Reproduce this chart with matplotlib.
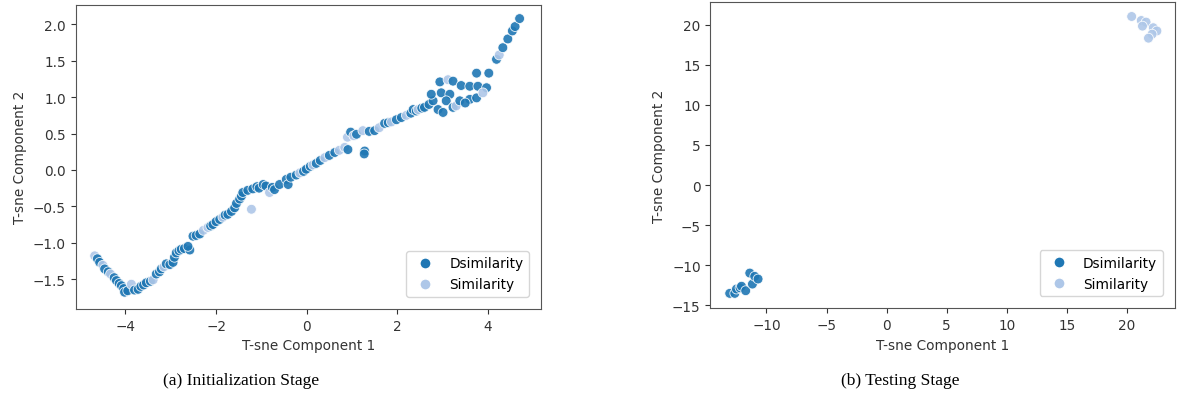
import matplotlib.pyplot as plt
from matplotlib.lines import Line2D

# initialization stage t-sne points (D = dissimilarity, S = similarity)
init_x = [-4.68, -4.62, -4.57, -4.50, -4.46, -4.38, -4.33, -4.25, -4.20, -4.14, -4.09, -4.04, -4.02, -3.95,
          -3.87, -3.80, -3.72, -3.66, -3.60, -3.54, -3.45, -3.39, -3.32, -3.25, -3.21, -3.15, -3.10, -3.02,
          -2.95, -2.92, -2.88, -2.82, -2.77, -2.70, -2.58, -2.62, -2.51, -2.44, -2.36, -2.28, -2.18, -2.12,
          -2.07, -2.00, -1.92, -1.85, -1.80, -1.74, -1.66, -1.59, -1.55, -1.48, -1.44, -1.41, -1.30, -1.22,
          -1.19, -1.10, -1.05, -0.96, -0.90, -0.82, -0.76, -0.71, -0.60, -0.45, -0.41, -0.35, -0.23, -0.15,
          -0.07, -0.01, 0.08, 0.14, 0.21, 0.30, 0.40, 0.50, 0.62, 0.72, 0.84, 0.91, 0.90, 0.97, 1.04, 1.10,
          1.24, 1.28, 1.27, 1.38, 1.50, 1.60, 1.72, 1.80, 1.87, 1.98, 2.09, 2.20, 2.30, 2.35, 2.42, 2.46,
          2.54, 2.60, 2.70, 2.79, 2.75, 2.90, 2.97, 2.94, 3.12, 3.23, 3.41, 3.16, 3.08, 3.01, 3.23, 3.30,
          3.38, 3.60, 3.78, 3.97, 3.75, 4.02, 3.60, 3.75, 3.89, 3.50, 4.19, 4.25, 4.33, 4.44, 4.54, 4.60,
          4.70]
init_y = [-1.18, -1.22, -1.27, -1.31, -1.36, -1.40, -1.43, -1.48, -1.52, -1.56, -1.59, -1.63, -1.68, -1.66,
          -1.57, -1.65, -1.64, -1.60, -1.58, -1.55, -1.53, -1.51, -1.43, -1.40, -1.36, -1.33, -1.29, -1.30,
          -1.27, -1.20, -1.14, -1.11, -1.09, -1.08, -1.10, -1.05, -0.91, -0.90, -0.88, -0.83, -0.79, -0.77,
          -0.75, -0.71, -0.68, -0.65, -0.62, -0.61, -0.57, -0.52, -0.46, -0.40, -0.36, -0.31, -0.28, -0.54,
          -0.26, -0.23, -0.25, -0.20, -0.22, -0.31, -0.24, -0.27, -0.20, -0.13, -0.20, -0.10, -0.07, -0.04,
          -0.02, 0.01, 0.05, 0.07, 0.09, 0.13, 0.17, 0.20, 0.24, 0.27, 0.31, 0.28, 0.45, 0.52, 0.47, 0.49,
          0.54, 0.26, 0.22, 0.53, 0.54, 0.58, 0.64, 0.65, 0.66, 0.69, 0.72, 0.75, 0.78, 0.83, 0.81, 0.83,
          0.85, 0.86, 0.90, 0.95, 1.04, 0.83, 1.06, 1.21, 1.24, 1.22, 1.16, 1.04, 0.95, 0.79, 0.86, 0.88,
          0.95, 1.15, 1.15, 1.13, 1.33, 1.33, 0.97, 0.99, 1.06, 0.92, 1.52, 1.58, 1.68, 1.80, 1.91, 1.97,
          2.08]
init_lab = ['S', 'D', 'D', 'S', 'D', 'D', 'S', 'D', 'D', 'D', 'D', 'D', 'D', 'D',
            'S', 'D', 'D', 'D', 'D', 'D', 'D', 'S', 'D', 'D', 'D', 'S', 'D', 'D',
            'D', 'D', 'D', 'D', 'D', 'D', 'D', 'D', 'D', 'D', 'D', 'S', 'S', 'D',
            'D', 'D', 'D', 'S', 'D', 'D', 'D', 'D', 'D', 'D', 'D', 'D', 'D', 'S',
            'D', 'D', 'D', 'D', 'D', 'S', 'D', 'D', 'D', 'D', 'D', 'D', 'D', 'S',
            'D', 'D', 'D', 'S', 'D', 'D', 'S', 'D', 'D', 'S', 'S', 'D', 'S', 'D', 'S', 'D',
            'S', 'D', 'D', 'D', 'D', 'S', 'D', 'D', 'S', 'D', 'D', 'S', 'D', 'D', 'D', 'S',
            'D', 'D', 'D', 'D', 'D', 'D', 'D', 'D', 'S', 'D', 'D', 'D', 'D', 'D', 'D', 'S',
            'D', 'D', 'D', 'D', 'D', 'D', 'D', 'D', 'S', 'D', 'D', 'S', 'D', 'D', 'D', 'D',
            'D']

# testing stage t-sne points
test_x = [-13.06, -12.64, -12.50, -12.20, -12.08, -11.73, -11.39, -11.17, -10.98, -10.70,
          20.4, 21.2, 21.6, 21.3, 22.2, 22.5, 22.1, 21.8]
test_y = [-13.49, -13.49, -12.95, -12.80, -12.60, -13.16, -10.96, -12.33, -11.37, -11.70,
          21.0, 20.5, 20.3, 19.8, 19.6, 19.2, 18.8, 18.3]
test_lab = ['D'] * 10 + ['S'] * 8

colors = {'D': '#1f77b4', 'S': '#aec7e8'}
names = {'D': 'Dsimilarity', 'S': 'Similarity'}


def draw(ax, xs, ys, labs, xlim, ylim, xticks, yticks):
    ax.scatter(xs, ys, c=[colors[l] for l in labs], s=50, edgecolors='white',
               linewidths=0.6, alpha=0.9, zorder=3)
    ax.set_xlim(xlim)
    ax.set_ylim(ylim)
    ax.set_xticks(xticks)
    ax.set_yticks(yticks)
    ax.set_xlabel('T-sne Component 1', fontsize=9.8, color='#333333')
    ax.set_ylabel('T-sne Component 2', fontsize=9.8, color='#333333')
    ax.tick_params(labelsize=9.8, colors='#333333')
    for sp in ax.spines.values():
        sp.set_color('#555555')
    handles = [Line2D([], [], marker='o', ls='', color=colors[k], markeredgecolor='white',
                      markersize=8, label=names[k]) for k in ['D', 'S']]
    ax.legend(handles=handles, loc='lower right', fontsize=9.8, framealpha=0.8,
              borderaxespad=0.9)


fig = plt.figure(figsize=(11.82, 4.10), dpi=100)
ax1 = fig.add_axes([0.064, 0.244, 0.394, 0.742])
ax2 = fig.add_axes([0.601, 0.2456, 0.393, 0.746])

draw(ax1, init_x, init_y, init_lab, (-5.1, 5.18), (-1.91, 2.27),
     [-4, -2, 0, 2, 4], [-1.5, -1.0, -0.5, 0.0, 0.5, 1.0, 1.5, 2.0])
draw(ax2, test_x, test_y, test_lab, (-14.67, 24.0), (-15.35, 22.75),
     [-10, -5, 0, 5, 10, 15, 20], [-15, -10, -5, 0, 5, 10, 15, 20])

fig.text(0.204, 0.062, '(a) Initialization Stage', fontsize=12.5, family='Liberation Serif', ha='center')
fig.text(0.762, 0.062, '(b) Testing Stage', fontsize=12.5, family='Liberation Serif', ha='center')

fig.savefig('out.png', dpi=100)
